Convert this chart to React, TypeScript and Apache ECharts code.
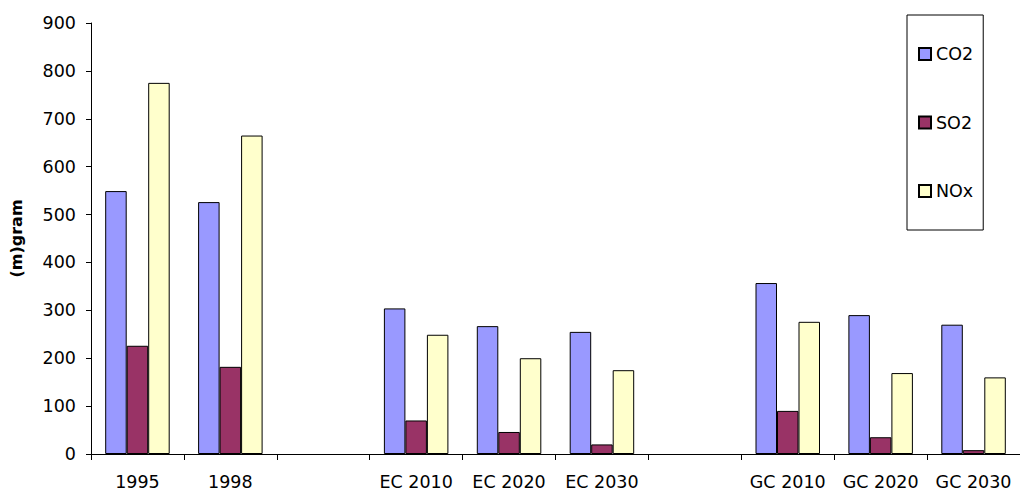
import React, { useEffect, useRef } from "react";
import * as echarts from "echarts";

// Emission totals per scenario; blank categories separate the groups
const categories = ["1995", "1998", "", "EC 2010", "EC 2020", "EC 2030", " ", "GC 2010", "GC 2020", "GC 2030"];
const co2 = [549, 526, null, 304, 267, 255, null, 357, 290, 270];
const so2 = [226, 182, null, 70, 46, 20, null, 90, 35, 8];
const nox = [775, 665, null, 249, 200, 175, null, 276, 169, 160];
const yTicks = { min: 0, max: 900, interval: 100 };

const FONT = "DejaVu Sans";
const FS = 17.5;

export default function App() {
  const ref = useRef<HTMLDivElement>(null);

  useEffect(() => {
    document.body.style.margin = "0";
    if (!ref.current) return;
    const chart = echarts.init(ref.current, undefined, { renderer: "svg" });

    const barSeries = (name: string, data: (number | null)[], color: string) => ({
      name,
      type: "bar",
      data,
      barWidth: 21.5,
      barGap: "0%",
      itemStyle: { color, borderColor: "#000", borderWidth: 1 },
    });

    chart.setOption({
      animation: false,
      backgroundColor: "#fff",
      textStyle: { fontFamily: FONT },
      grid: { left: 87, top: 23, bottom: 37, right: -7, containLabel: false },
      legend: {
        orient: "vertical",
        left: 907,
        top: 15,
        icon: "rect",
        itemWidth: 12,
        itemHeight: 12,
        itemGap: 50.5,
        padding: [30, 10, 30, 11],
        borderColor: "#000",
        borderWidth: 1,
        textStyle: { fontFamily: FONT, fontSize: FS, color: "#000" },
        data: ["CO2", "SO2", "NOx"],
      },
      xAxis: {
        type: "category",
        data: categories,
        axisLine: { lineStyle: { color: "#000", width: 1 } },
        axisTick: { show: true, length: 6, lineStyle: { color: "#000" } },
        axisLabel: { color: "#000", fontSize: FS, fontFamily: FONT, margin: 19, interval: 0 },
        splitLine: { show: false },
      },
      yAxis: {
        type: "value",
        min: yTicks.min,
        max: yTicks.max,
        interval: yTicks.interval,
        name: "(m)gram",
        nameLocation: "middle",
        nameGap: 67,
        nameTextStyle: { color: "#000", fontSize: 16, fontWeight: "bold", fontFamily: FONT },
        axisLine: { show: true, lineStyle: { color: "#000", width: 1 } },
        axisTick: { show: true, length: 5, lineStyle: { color: "#000" } },
        axisLabel: { color: "#000", fontSize: FS, fontFamily: FONT, margin: 15 },
        splitLine: { show: false },
      },
      series: [
        barSeries("CO2", co2, "#9999FF"),
        barSeries("SO2", so2, "#993366"),
        barSeries("NOx", nox, "#FFFFCC"),
      ],
    });

    return () => chart.dispose();
  }, []);

  return <div ref={ref} style={{ width: 1020, height: 491 }} />;
}
